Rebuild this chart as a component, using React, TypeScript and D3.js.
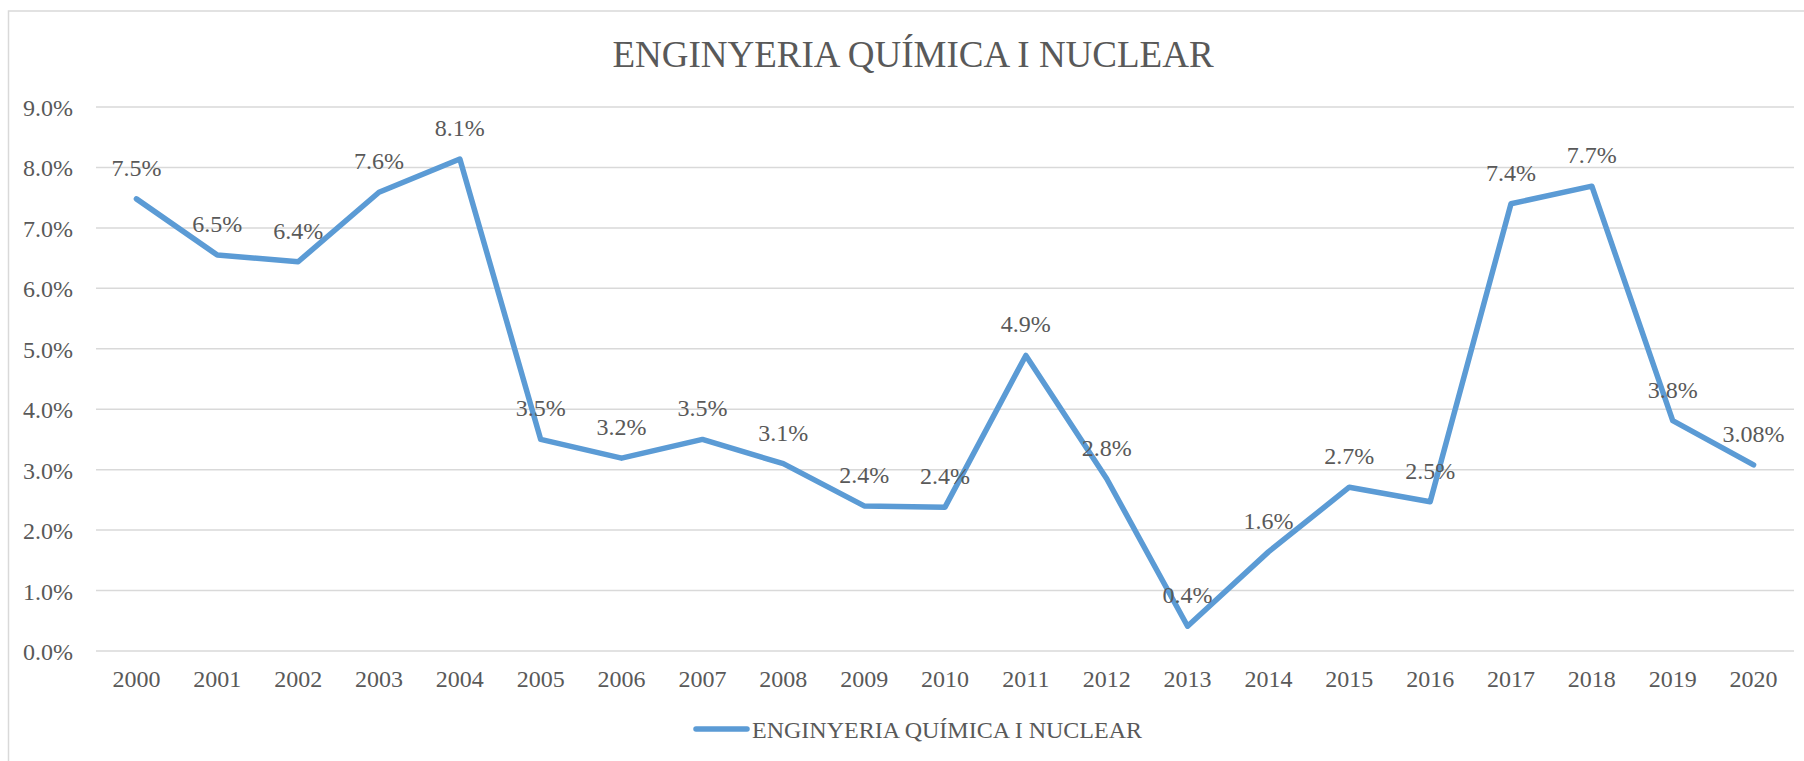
import React from "react";
import * as d3 from "d3";

const years = ["2000","2001","2002","2003","2004","2005","2006","2007","2008","2009","2010","2011","2012","2013","2014","2015","2016","2017","2018","2019","2020"];
const values = [0.0748,0.0655,0.0644,0.0759,0.0814,0.0350,0.0319,0.0350,0.0310,0.0240,0.0238,0.0489,0.0285,0.0041,0.0164,0.0271,0.0247,0.0740,0.0769,0.0381,0.0308];
const valueLabels = ["7.5%","6.5%","6.4%","7.6%","8.1%","3.5%","3.2%","3.5%","3.1%","2.4%","2.4%","4.9%","2.8%","0.4%","1.6%","2.7%","2.5%","7.4%","7.7%","3.8%","3.08%"];
const yTicks = [0,0.01,0.02,0.03,0.04,0.05,0.06,0.07,0.08,0.09];
const title = "ENGINYERIA QUÍMICA I NUCLEAR";
const seriesName = "ENGINYERIA QUÍMICA I NUCLEAR";

const W = 1804, H = 761;
const left = 96, right = 1794, top = 107, bottom = 651;
const textColor = "#595959";
const gridColor = "#D9D9D9";
const lineColor = "#5B9BD5";
const font = "'Liberation Serif', 'Times New Roman', Times, serif";

export default function App() {
  const x = d3.scaleBand<string>().domain(years).range([left, right]);
  const y = d3.scaleLinear().domain([0, 0.09]).range([bottom, top]);
  const cx = (d: string) => (x(d) as number) + x.bandwidth() / 2;
  const line = d3.line<number>().x((_, i) => cx(years[i])).y((v) => y(v));
  const fmt = d3.format(".1%");

  return (
    <svg width={W} height={H} style={{ position: "absolute", left: 0, top: 0 }} fontFamily={font}>
      <rect x={0} y={0} width={W} height={H} fill="#fff" />
      <rect x={8.5} y={11} width={W + 20} height={H + 20} fill="none" stroke={gridColor} strokeWidth={1.5} />
      <text x={913} y={67} textAnchor="middle" fontSize={37} fill={textColor}>{title}</text>
      {yTicks.map((t) => (
        <g key={t}>
          <line x1={left} x2={right} y1={y(t)} y2={y(t)} stroke={gridColor} strokeWidth={1.5} />
          <text x={73} y={y(t) + 9} textAnchor="end" fontSize={24} fill={textColor}>{fmt(t)}</text>
        </g>
      ))}
      {years.map((yr) => (
        <text key={yr} x={cx(yr)} y={687} textAnchor="middle" fontSize={24} fill={textColor}>{yr}</text>
      ))}
      <path d={line(values) || ""} fill="none" stroke={lineColor} strokeWidth={5.5} strokeLinejoin="round" strokeLinecap="round" />
      {values.map((v, i) => (
        <text key={i} x={cx(years[i])} y={y(v) - 23} textAnchor="middle" fontSize={24} fill={textColor}>{valueLabels[i]}</text>
      ))}
      <line x1={696} x2={747} y1={729} y2={729} stroke={lineColor} strokeWidth={5.5} strokeLinecap="round" />
      <text x={752} y={738} fontSize={24} fill={textColor}>{seriesName}</text>
    </svg>
  );
}
